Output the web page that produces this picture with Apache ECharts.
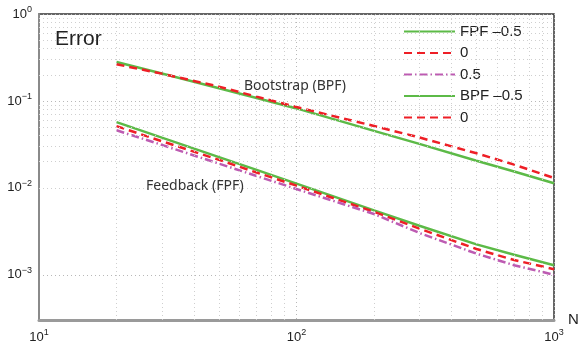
<!DOCTYPE html>
<html>
<head>
<meta charset="utf-8">
<script src="https://cdn.jsdelivr.net/npm/echarts@6/dist/echarts.min.js"></script>
<style>
    html, body { margin: 0; padding: 0; background: #fff; }
    #chart { width: 582px; height: 346px; }
</style>
</head>
<body>
<div id="chart"></div>
<script>
// 样本数 N
const nList = [20, 30, 50, 70, 100, 200, 300, 500, 700, 1000]
// Feedback (FPF)
const fpfNeg = [0.057, 0.0378, 0.0226, 0.0161, 0.0112, 0.0055, 0.00367, 0.00224, 0.0017, 0.00129]
const fpfZero = [0.0513, 0.0344, 0.021, 0.015, 0.0106, 0.0053, 0.0034, 0.00198, 0.00148, 0.00116]
const fpfHalf = [0.046, 0.0312, 0.019, 0.0137, 0.0097, 0.005, 0.00303, 0.00175, 0.00129, 0.001]
// Bootstrap (BPF)
const bpfNeg = [0.28, 0.207, 0.14, 0.108, 0.082, 0.0453, 0.0321, 0.0205, 0.0154, 0.0113]
const bpfZero = [0.264, 0.206, 0.146, 0.112, 0.085, 0.0515, 0.038, 0.025, 0.0185, 0.013]
const legendNames = ['FPF \u20130.5', '0', '0.5', 'BPF \u20130.5', '0 ']

// 次网格线 (2..9 每个数量级)
const xMinor = []
const yMinor = []
for (let k = 1; k <= 2; k++) {
    for (let m = 2; m <= 9; m++) xMinor.push(m * Math.pow(10, k))
}
for (let k = -4; k <= -1; k++) {
    for (let m = 2; m <= 9; m++) {
        const v = m * Math.pow(10, k)
        if (v > 3.1e-4) yMinor.push(+v.toPrecision(3))
    }
}

const GREEN = '#5cba47'
const RED = '#ee1f26'
const MAGENTA = '#bd5bb2'
const FONT = 'Liberation Sans'

function pairs(vals) {
    return nList.map((n, i) => [n, vals[i]])
}

function powLabel(v) {
    const lg = Math.log10(v)
    const e = Math.round(lg)
    if (Math.abs(lg - e) > 1e-6) return ''
    return '{b|10}{s|' + (e < 0 ? '\u2212' + -e : e) + '}'
}

const labelRich = {
    b: { fontSize: 13, color: '#222', fontFamily: FONT },
    s: { fontSize: 9, color: '#222', fontFamily: FONT, padding: [0, 0, 9, 0] }
}

function lineSeries(name, vals, color, type, width) {
    return {
        name: name,
        type: 'line',
        data: pairs(vals),
        symbol: 'none',
        showSymbol: false,
        smooth: false,
        z: 3,
        lineStyle: { color: color, width: width, type: type },
        itemStyle: { color: color },
        emphasis: { disabled: true }
    }
}

const chart = echarts.init(document.getElementById('chart'), null, { renderer: 'canvas' })

const option = {
    backgroundColor: '#fff',
    animation: false,
    grid: {
        left: 39,
        right: 28,
        top: 14,
        bottom: 26,
        show: true,
        borderColor: '#333',
        borderWidth: 1.5
    },
    legend: {
        orient: 'vertical',
        left: 396,
        top: 19,
        padding: [5, 8, 5, 7],
        backgroundColor: '#fff',
        itemWidth: 51,
        itemHeight: 14,
        itemGap: 6.5,
        data: legendNames,
        itemStyle: { opacity: 0, borderWidth: 0 },
        textStyle: { fontSize: 15, color: '#222', fontFamily: FONT },
        selectedMode: false
    },
    xAxis: {
        type: 'log',
        logBase: 10,
        min: 10,
        max: 1000,
        name: 'N',
        nameLocation: 'end',
        nameGap: 14,
        nameTextStyle: { fontSize: 15, color: '#222', fontFamily: FONT, padding: [12, 0, 0, 0] },
        axisLine: { show: true, lineStyle: { color: '#9a9a9a', width: 3 } },
        axisTick: { show: false },
        axisLabel: { margin: 8, formatter: powLabel, rich: labelRich },
        splitLine: { show: true, lineStyle: { color: '#b8b8b8', type: [1, 3] } },
        minorTick: { show: false },
        minorSplitLine: { show: false }
    },
    yAxis: {
        type: 'log',
        logBase: 10,
        min: Math.pow(10, -3.52),
        max: 1,
        axisLine: { show: true, lineStyle: { color: '#8a8a8a', width: 2 } },
        axisTick: { show: false },
        axisLabel: { margin: 7, formatter: powLabel, rich: labelRich },
        splitLine: { show: true, lineStyle: { color: '#b8b8b8', type: [1, 3] } }
    },
    series: [
        {
            name: 'grid',
            type: 'line',
            data: [],
            z: 1,
            markLine: {
                silent: true,
                symbol: ['none', 'none'],
                animation: false,
                label: { show: false },
                lineStyle: { color: '#cfcfcf', type: [1, 3], width: 1 },
                emphasis: { disabled: true },
                data: xMinor.map(v => ({ xAxis: v })).concat(yMinor.map(v => ({ yAxis: v })))
            }
        },
        lineSeries(legendNames[0], fpfNeg, GREEN, 'solid', 2.5),
        lineSeries(legendNames[1], fpfZero, RED, [8, 5], 2.5),
        lineSeries(legendNames[2], fpfHalf, MAGENTA, [8, 3, 1.5, 3], 2.5),
        lineSeries(legendNames[3], bpfNeg, GREEN, 'solid', 2.5),
        lineSeries(legendNames[4], bpfZero, RED, [8, 5], 2.5)
    ],
    graphic: [
        {
            type: 'text', left: 55, top: 29, z: 10,
            style: { text: 'Error', fontSize: 21, fill: '#222', fontFamily: FONT }
        },
        {
            type: 'text', left: 244, top: 79, z: 10,
            style: { text: 'Bootstrap (BPF)', fontSize: 14, fill: '#333', fontFamily: 'Noto Sans' }
        },
        {
            type: 'text', left: 146, top: 179, z: 10,
            style: { text: 'Feedback (FPF)', fontSize: 14, fill: '#333', fontFamily: 'Noto Sans' }
        }
    ]
}

chart.setOption(option)
</script>
</body>
</html>
